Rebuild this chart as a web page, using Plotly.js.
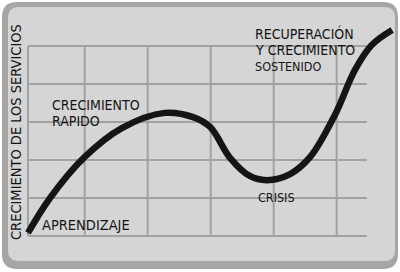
<!DOCTYPE html>
<html>
<head>
<meta charset="utf-8">
<script src="https://cdn.plot.ly/plotly-3.0.1.min.js"></script>
<style>
  html, body { margin: 0; padding: 0; background: #ffffff; }
  #chart { width: 400px; height: 272px; }
</style>
</head>
<body>
<div id="chart"></div>
<script>
// ---- data (x = time in grid cells, y = growth in grid cells) ----
const curveX = [0, 0.35, 0.9, 1.49, 2.17, 2.62, 2.89, 3.21, 3.52, 3.79, 4.16, 4.48, 4.87, 5.19, 5.46, 5.78];
const curveY = [0.08, 1.0, 2.08, 2.84, 3.24, 3.13, 2.87, 2.05, 1.58, 1.47, 1.63, 2.08, 3.18, 4.37, 5.03, 5.42];

const xGrid = [0, 0.9, 1.9, 2.9, 3.9, 4.9];
const yGrid = [0, 1, 2, 3, 4, 5];
const gridXEnd = 5.38;

const labelText = ["CRECIMIENTO", "RAPIDO", "APRENDIZAJE", "CRISIS", "RECUPERACIÓN", "Y CRECIMIENTO", "SOSTENIDO"];
const labelX    = [0.35, 0.35, 0.19, 3.62, 3.57, 3.57, 3.57];
const labelY    = [3.45, 3.03, 0.28, 1.01, 5.33, 4.89, 4.46];
const labelSize = [14, 14, 14.5, 12.5, 14, 14, 12.5];

const yTitle = "CRECIMIENTO DE LOS SERVICIOS";

// ---- layout helpers ----
const W = 400, H = 272;
const FONT = "'Liberation Sans Narrow', 'DejaVu Sans Condensed', 'Arial Narrow', sans-serif";
function px(x) { return x / W; }
function py(y) { return 1 - y / H; }
function roundRect(x0, y0, x1, y1, r) {
  const p = (x, y) => px(x) + ',' + py(y);
  return 'M' + p(x0 + r, y0) + ' L' + p(x1 - r, y0) + ' Q' + p(x1, y0) + ' ' + p(x1, y0 + r) +
         ' L' + p(x1, y1 - r) + ' Q' + p(x1, y1) + ' ' + p(x1 - r, y1) +
         ' L' + p(x0 + r, y1) + ' Q' + p(x0, y1) + ' ' + p(x0, y1 - r) +
         ' L' + p(x0, y0 + r) + ' Q' + p(x0, y0) + ' ' + p(x0 + r, y0) + ' Z';
}

const shapes = [
  { type: 'path', xref: 'paper', yref: 'paper', layer: 'below', path: roundRect(2, 2, 398, 269, 15), fillcolor: '#a6a6a6', line: { width: 0 } },
  { type: 'path', xref: 'paper', yref: 'paper', layer: 'below', path: roundRect(8, 7, 395, 261, 11), fillcolor: '#d5d5d5', line: { width: 0 } }
];
xGrid.forEach(v => shapes.push({ type: 'line', xref: 'x', yref: 'y', layer: 'below', x0: v, x1: v, y0: 0, y1: yGrid[yGrid.length - 1], line: { color: '#a2a2a2', width: 2 } }));
yGrid.forEach(v => shapes.push({ type: 'line', xref: 'x', yref: 'y', layer: 'below', x0: 0, x1: gridXEnd, y0: v, y1: v, line: { color: '#a2a2a2', width: 2 } }));

const annotations = labelText.map((t, i) => ({
  text: t, x: labelX[i], y: labelY[i], xref: 'x', yref: 'y',
  xanchor: 'left', yanchor: 'middle', showarrow: false,
  font: { family: FONT, size: labelSize[i], color: '#141414' }
}));
annotations.push({
  text: yTitle, x: px(16), y: py(132), xref: 'paper', yref: 'paper',
  xanchor: 'center', yanchor: 'middle', textangle: -90, showarrow: false,
  font: { family: FONT, size: 14.5, color: '#141414' }
});

const trace = {
  type: 'scatter', mode: 'lines', x: curveX, y: curveY,
  line: { color: '#151515', width: 6.5, shape: 'spline', smoothing: 1 },
  hoverinfo: 'skip'
};

const layout = {
  width: W, height: H,
  margin: { l: 0, r: 0, t: 0, b: 0, pad: 0 },
  paper_bgcolor: '#ffffff', plot_bgcolor: 'rgba(0,0,0,0)',
  showlegend: false,
  xaxis: { range: [-28 / 63, 372 / 63], visible: false, fixedrange: true },
  yaxis: { range: [-36 / 38, 236 / 38], visible: false, fixedrange: true },
  shapes: shapes,
  annotations: annotations
};

Plotly.newPlot('chart', [trace], layout, { staticPlot: true, displayModeBar: false });
</script>
</body>
</html>
